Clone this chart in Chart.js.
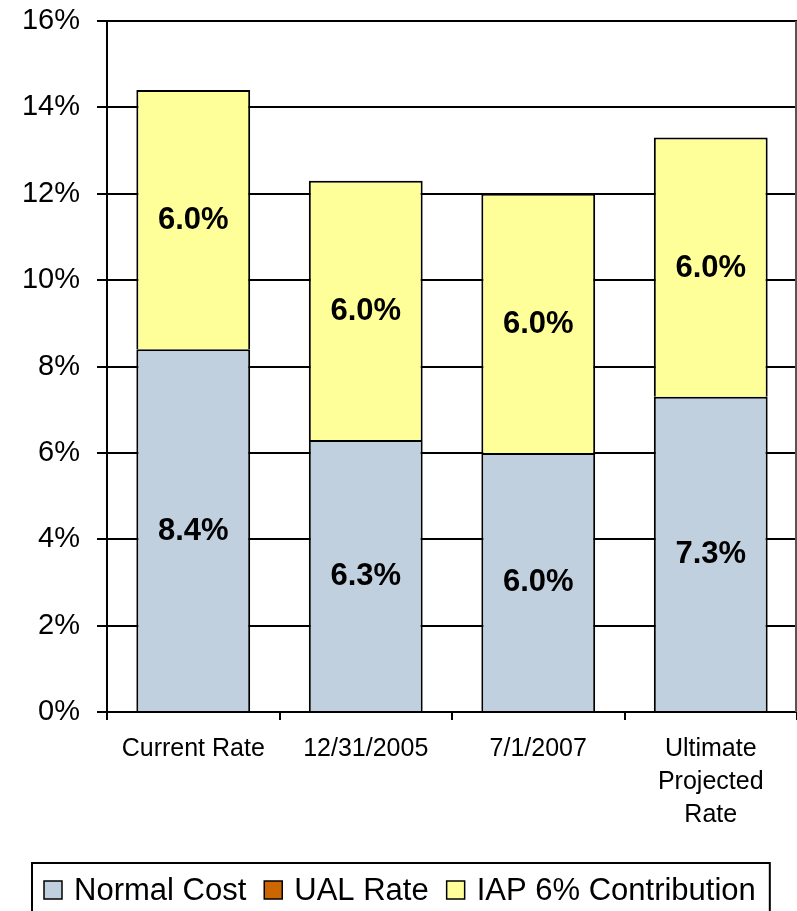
<!DOCTYPE html>
<html>
<head>
<meta charset="utf-8">
<title>Contribution Rates</title>
<script src="https://cdn.jsdelivr.net/npm/chart.js@4.4.0/dist/chart.umd.min.js"></script>
<style>
  html, body { margin: 0; padding: 0; background: #fff; overflow: hidden; }
  #wrap { width: 797px; height: 911px; position: relative; }
</style>
</head>
<body>
<div id="wrap"><canvas id="rateChart"></canvas></div>
<script>
const categories = ['Current Rate', '12/31/2005', '7/1/2007', ['Ultimate', 'Projected', 'Rate']];
const normalCost = [8.4, 6.3, 6.0, 7.3];
const ualRate = [0, 0, 0, 0];
const iapContribution = [6.0, 6.0, 6.0, 6.0];
const yTicks = [0, 2, 4, 6, 8, 10, 12, 14, 16];

const FONT = '"Liberation Sans", Arial, sans-serif';

// bold value text in the middle of each segment
const segmentLabels = {
    id: 'segmentLabels',
    afterDatasetsDraw(chart) {
        const ctx = chart.ctx;
        ctx.save();
        ctx.font = 'bold 31px ' + FONT;
        ctx.fillStyle = '#000';
        ctx.textAlign = 'center';
        ctx.textBaseline = 'middle';
        chart.data.datasets.forEach((ds, i) => {
            const meta = chart.getDatasetMeta(i);
            meta.data.forEach((bar, j) => {
                const v = ds.data[j];
                if (!v) return;
                ctx.fillText(v.toFixed(1) + '%', bar.x, (bar.y + bar.base) / 2 + 1);
            });
        });
        ctx.restore();
    }
};

// boxed legend under the axis, plus the right edge of the plot
const boxLegend = {
    id: 'boxLegend',
    afterDraw(chart) {
        const ctx = chart.ctx;
        const area = chart.chartArea;
        ctx.save();
        ctx.strokeStyle = '#555';
        ctx.lineWidth = 2;
        ctx.beginPath();
        ctx.moveTo(area.right - 1, area.top);
        ctx.lineTo(area.right - 1, area.bottom);
        ctx.stroke();

        ctx.font = '31px ' + FONT;
        const sq = 18, gapText = 12, gapItem = 18;
        const items = chart.data.datasets.map(ds => ({
            label: ds.label, color: ds.backgroundColor, w: ctx.measureText(ds.label).width
        }));
        let total = 0;
        items.forEach((it, i) => { total += sq + gapText + it.w + (i < items.length - 1 ? gapItem : 0); });
        const cy = 890;
        let x = Math.round(chart.width / 2 + 1 - total / 2);
        const boxLeft = x - 12, boxRight = x + total + 14;

        ctx.strokeStyle = '#000';
        ctx.lineWidth = 2;
        ctx.strokeRect(boxLeft, 863, boxRight - boxLeft, 80);

        ctx.textBaseline = 'middle';
        ctx.textAlign = 'left';
        items.forEach(it => {
            ctx.fillStyle = it.color;
            ctx.fillRect(x, cy - sq / 2, sq, sq);
            ctx.lineWidth = 1.5;
            ctx.strokeStyle = '#000';
            ctx.strokeRect(x, cy - sq / 2, sq, sq);
            x += sq + gapText;
            ctx.fillStyle = '#000';
            ctx.fillText(it.label, x, cy + 1);
            x += it.w + gapItem;
        });
        ctx.restore();
    }
};

new Chart(document.getElementById('rateChart').getContext('2d'), {
    type: 'bar',
    data: {
        labels: categories,
        datasets: [
            { label: 'Normal Cost', data: normalCost, backgroundColor: '#C1D0DF', borderColor: '#000', borderWidth: 2 },
            { label: 'UAL Rate', data: ualRate, backgroundColor: '#CC6600', borderColor: '#000', borderWidth: 2 },
            { label: 'IAP 6% Contribution', data: iapContribution, backgroundColor: '#FFFF99', borderColor: '#000', borderWidth: 2 }
        ]
    },
    options: {
        responsive: true,
        maintainAspectRatio: false,
        animation: false,
        layout: { padding: { top: 21, right: 0, bottom: 0, left: 0 } },
        datasets: { bar: { categoryPercentage: 0.66, barPercentage: 1.0 } },
        plugins: { legend: { display: false }, tooltip: { enabled: false } },
        scales: {
            x: {
                stacked: true,
                afterFit(scale) { scale.height = 199; scale.paddingLeft = 0; scale.paddingRight = 0; },
                grid: { offset: true, drawOnChartArea: false, drawTicks: true, tickLength: 8, color: '#000', lineWidth: 2 },
                border: { display: true, color: '#000', width: 2 },
                ticks: { color: '#000', font: { family: FONT, size: 25, lineHeight: 1.32 }, padding: 13, maxRotation: 0, autoSkip: false }
            },
            y: {
                stacked: true,
                min: 0,
                max: 16,
                afterFit(scale) { scale.width = 107; scale.paddingTop = 0; scale.paddingBottom = 0; },
                afterBuildTicks(scale) { scale.ticks = yTicks.map(v => ({ value: v })); },
                grid: { color: '#000', lineWidth: 2, tickLength: 10 },
                border: { display: true, color: '#000', width: 2 },
                ticks: { color: '#000', font: { family: FONT, size: 29 }, padding: 17, callback: v => v + '%' }
            }
        }
    },
    plugins: [segmentLabels, boxLegend]
});
</script>
</body>
</html>
